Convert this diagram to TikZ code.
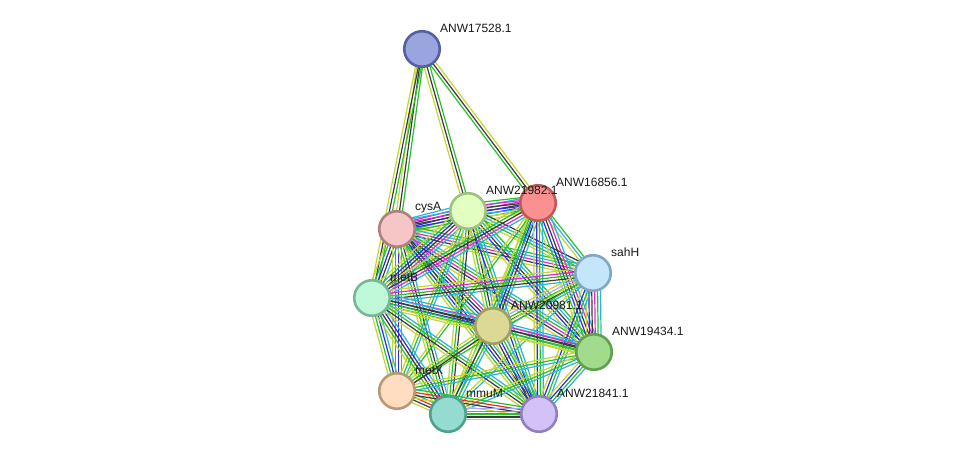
\documentclass[tikz,border=0pt]{standalone}
\usepackage{fontspec}
\setmainfont{Liberation Sans}
\usetikzlibrary{calc}
\definecolor{tm}{HTML}{C4D630}
\definecolor{co}{HTML}{3A3A3A}
\definecolor{nb}{HTML}{28C028}
\definecolor{oc}{HTML}{2A2AF0}
\definecolor{ex}{HTML}{E028D8}
\definecolor{db}{HTML}{28B4E0}
\definecolor{fu}{HTML}{F02828}
\definecolor{ho}{HTML}{A8A8F8}
\definecolor{fK}{HTML}{9AA5E0}\definecolor{dK}{HTML}{5560A0}
\definecolor{fC}{HTML}{F6C6C6}\definecolor{dC}{HTML}{B08080}
\definecolor{fY}{HTML}{E2FEC0}\definecolor{dY}{HTML}{A0C080}
\definecolor{fR}{HTML}{FA9090}\definecolor{dR}{HTML}{C05A5A}
\definecolor{fS}{HTML}{C3E6FA}\definecolor{dS}{HTML}{80A8C0}
\definecolor{fB}{HTML}{C0F8DA}\definecolor{dB}{HTML}{78B898}
\definecolor{fZ}{HTML}{DCD896}\definecolor{dZ}{HTML}{A0A060}
\definecolor{fG}{HTML}{A0DC8C}\definecolor{dG}{HTML}{60A050}
\definecolor{fX}{HTML}{FEDDC0}\definecolor{dX}{HTML}{B89A78}
\definecolor{fM}{HTML}{94DCD0}\definecolor{dM}{HTML}{50A090}
\definecolor{fL}{HTML}{D2C2F8}\definecolor{dL}{HTML}{9080C0}
\tikzset{
  edgeline/.style={line width=1.2pt},
  pnode/.style={circle, minimum size=35.5pt, inner sep=0pt, line width=2.6pt},
  lab/.style={anchor=west, inner sep=0pt, text=black!90, font=\fontsize{12}{14}\selectfont}
}
\def\bsp{2.9}
\newcommand\bund[3]{%
  \gdef\bundn{0}%
  \foreach \c in {#3}{\xdef\bundn{\the\numexpr\bundn+1\relax}}%
  \foreach \c [count=\i] in {#3}{%
    \pgfmathsetmacro\off{(\i-(\bundn+1)/2)*\bsp}%
    \draw[draw=\c, edgeline] ($(#1)!\off pt!90:(#2)$) -- ($(#2)!\off pt!-90:(#1)$);
  }}
\begin{document}
\begin{tikzpicture}[x=1pt,y=-1pt]
\fill[white] (0,0) rectangle (975,460);
\useasboundingbox (0,0) rectangle (975,460);
% positions
\coordinate (K) at (422,49);
\coordinate (C) at (397,229);
\coordinate (Y) at (468,211);
\coordinate (R) at (538,203);
\coordinate (S) at (593,273);
\coordinate (B) at (372,298);
\coordinate (Z) at (493,326);
\coordinate (G) at (594,352);
\coordinate (X) at (397,391);
\coordinate (M) at (448,414);
\coordinate (L) at (539,414);
% edges
\bund{K}{C}{tm,co,nb}
\bund{K}{B}{tm,co,nb}
\bund{K}{Y}{tm,co,nb}
\bund{K}{R}{nb,co,tm}
\bund{C}{Y}{tm,nb,oc,co,ex,db}
\bund{C}{R}{tm,nb,oc,co,ex,db}
\bund{C}{S}{tm,co,ex,db,nb}
\bund{C}{B}{tm,nb,oc,co,db}
\bund{C}{Z}{tm,nb,oc,co,ex,db}
\bund{C}{G}{tm,co,ex,nb,db}
\bund{C}{X}{tm,nb,oc,db}
\bund{C}{M}{tm,nb,co,db}
\bund{C}{L}{tm,nb,oc,co,db}
\bund{Y}{R}{tm,db,oc,co,ex,nb}
\bund{Y}{S}{tm,nb,db,co}
\bund{Y}{B}{tm,nb,oc,co,ex,db}
\bund{Y}{Z}{tm,nb,co,db}
\bund{Y}{G}{tm,oc,co,db,nb}
\bund{Y}{X}{tm,nb,db}
\bund{Y}{M}{tm,nb,co}
\bund{Y}{L}{tm,oc,nb,db}
\bund{R}{S}{tm,db,nb}
\bund{R}{B}{tm,nb,co,ex,db}
\bund{R}{Z}{tm,nb,oc,co,db}
\bund{R}{G}{tm,nb,oc,co,ex,db}
\bund{R}{X}{tm,nb}
\bund{R}{M}{tm,nb,db}
\bund{R}{L}{tm,oc,nb,db}
\bund{S}{B}{tm,ex,nb,co,db}
\bund{S}{Z}{tm,ho,nb,co,db}
\bund{S}{G}{tm,oc,co,ex,nb,db}
\bund{S}{X}{tm,nb}
\bund{S}{M}{tm,db}
\bund{S}{L}{tm,oc,nb,db}
\bund{B}{Z}{tm,nb,oc,co,ex,db}
\bund{B}{G}{tm,nb,co,db}
\bund{B}{X}{tm,nb,oc,db}
\bund{B}{M}{tm,nb,co,oc,db}
\bund{B}{L}{tm,co,nb,db}
\bund{Z}{G}{tm,nb,co,ex,db}
\bund{Z}{X}{tm,nb,co}
\bund{Z}{M}{tm,co,nb,db}
\bund{Z}{L}{tm,co,oc,nb,db}
\bund{G}{X}{tm,nb,db}
\bund{G}{M}{tm,nb,db}
\bund{G}{L}{tm,oc,nb,db}
\bund{X}{M}{tm,co,fu,nb}
\bund{X}{L}{tm,co,fu,nb}
\bund{M}{L}{tm,co,nb,db,ho}
% nodes
\node[pnode, fill=fK, draw=dK] (nK) at (K) {};
\node[pnode, fill=fC, draw=dC] (nC) at (C) {};
\node[pnode, fill=fY, draw=dY] (nY) at (Y) {};
\node[pnode, fill=fR, draw=dR] (nR) at (R) {};
\node[pnode, fill=fS, draw=dS] (nS) at (S) {};
\node[pnode, fill=fB, draw=dB] (nB) at (B) {};
\node[pnode, fill=fZ, draw=dZ] (nZ) at (Z) {};
\node[pnode, fill=fG, draw=dG] (nG) at (G) {};
\node[pnode, fill=fX, draw=dX] (nX) at (X) {};
\node[pnode, fill=fM, draw=dM] (nM) at (M) {};
\node[pnode, fill=fL, draw=dL] (nL) at (L) {};
% labels
\node[lab] (lK) at ($(K)+(18,-21)$) {ANW17528.1};
\node[lab] (lC) at ($(C)+(18,-21)$) {cysA};
\node[lab] (lY) at ($(Y)+(18,-21)$) {ANW21982.1};
\node[lab] (lR) at ($(R)+(18,-21)$) {ANW16856.1};
\node[lab] (lS) at ($(S)+(18,-21)$) {sahH};
\node[lab] (lB) at ($(B)+(18,-21)$) {metB};
\node[lab] (lZ) at ($(Z)+(18,-21)$) {ANW20981.1};
\node[lab] (lG) at ($(G)+(18,-21)$) {ANW19434.1};
\node[lab] (lX) at ($(X)+(18,-21)$) {metX};
\node[lab] (lM) at ($(M)+(18,-21)$) {mmuM};
\node[lab] (lL) at ($(L)+(18,-21)$) {ANW21841.1};
\end{tikzpicture}
\end{document}
